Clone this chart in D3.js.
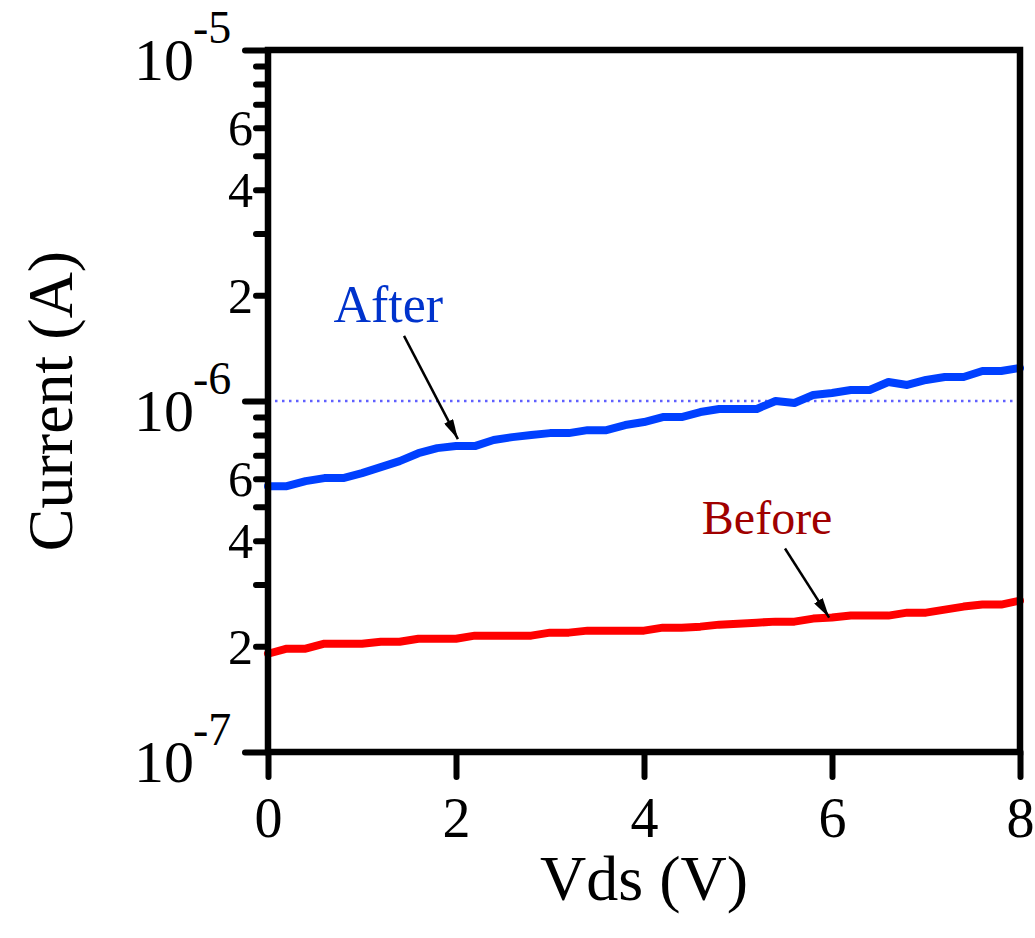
<!DOCTYPE html>
<html><head><meta charset="utf-8">
<script src="https://cdn.jsdelivr.net/npm/d3@7"></script>
<style>body{margin:0;background:#fff}svg{display:block}</style></head>
<body><svg id="c" width="1035" height="938"></svg>
<script>
// ---- data ----
const vds = [0,0.2,0.4,0.6,0.8,1.0,1.2,1.4,1.6,1.8,2.0,2.2,2.4,2.6,2.8,3.0,3.2,3.4,3.6,3.8,4.0,
             4.2,4.4,4.6,4.8,5.0,5.2,5.4,5.6,5.8,6.0,6.2,6.4,6.6,6.8,7.0,7.2,7.4,7.6,7.8,8.0];
const afterI = [0.572,0.572,0.591,0.603,0.603,0.623,0.648,0.674,0.710,0.734,0.744,0.744,0.774,0.789,0.800,0.810,0.810,0.826,0.826,0.854,0.871,
                0.900,0.900,0.930,0.949,0.949,0.949,1.000,0.987,1.040,1.054,1.075,1.075,1.133,1.111,1.148,1.171,1.171,1.218,1.218,1.242].map(v=>v*1e-6);
const beforeI = [1.905,1.969,1.969,2.035,2.035,2.035,2.062,2.062,2.103,2.103,2.103,2.145,2.145,2.145,2.145,2.188,2.188,2.217,2.217,2.217,2.217,
                 2.261,2.261,2.276,2.306,2.321,2.336,2.352,2.352,2.399,2.415,2.447,2.447,2.447,2.495,2.495,2.545,2.596,2.630,2.630,2.700].map(v=>v*1e-7);
const xTicks = [0,2,4,6,8];
const yMajor = [1e-7,1e-6,1e-5];
const yMajorExp = ["-7","-6","-5"];
const yMinorMult = [2,3,4,5,6,7,8,9];
const yMinorLabeled = [2,4,6];
const refLevel = 1e-6;
const labels = [
  {text:"After", x:1.28, y:1.682e-6, color:"#0033cc", size:52, from:[1.447,1.533e-6], to:[2.02,0.779e-6]},
  {text:"Before", x:5.31, y:0.417e-6, color:"#a00000", size:48, from:[5.50,0.380e-6], to:[5.97,0.2415e-6]}
];

// ---- layout ----
const L=268, R=1020, T=50, B=752;
const svg = d3.select("#c");
const font = "'Liberation Serif','Times New Roman',serif";
const x = d3.scaleLinear().domain([0,8]).range([L,R]);
const y = d3.scaleLog().domain([1e-7,1e-5]).range([B,T]);

// reference dotted line
svg.append("line").attr("x1",L).attr("x2",R).attr("y1",y(refLevel)).attr("y2",y(refLevel))
  .attr("stroke","#6060ff").attr("stroke-width",2.5).attr("stroke-dasharray","2.5,4.5");

// data lines
const line = d3.line().x((d,i)=>x(vds[i])).y(d=>y(d));
svg.append("path").datum(afterI).attr("d",line).attr("fill","none").attr("stroke","#0040ff")
  .attr("stroke-width",8).attr("stroke-linejoin","round").attr("stroke-linecap","round");
svg.append("path").datum(beforeI).attr("d",line).attr("fill","none").attr("stroke","#ff0000")
  .attr("stroke-width",8).attr("stroke-linejoin","round").attr("stroke-linecap","round");

// frame
svg.append("rect").attr("x",L).attr("y",T).attr("width",R-L).attr("height",B-T)
  .attr("fill","none").attr("stroke","#000").attr("stroke-width",6.5);

// y axis ticks
const minorVals = [];
[1e-7,1e-6].forEach(d=>yMinorMult.forEach(m=>minorVals.push(d*m)));
const yMinAxis = d3.axisLeft(y).tickValues(minorVals).tickSize(12).tickFormat("");
const gYm = svg.append("g").attr("transform",`translate(${L},0)`).call(yMinAxis);
const yMajAxis = d3.axisLeft(y).tickValues(yMajor).tickSize(23).tickFormat("");
const gYM = svg.append("g").attr("transform",`translate(${L},0)`).call(yMajAxis);
[gYm,gYM].forEach(g=>{g.select(".domain").remove();
  g.selectAll(".tick line").attr("stroke","#000").attr("stroke-width",6).attr("stroke-linecap","round");});

// y labels
yMajor.forEach((d,i)=>{
  svg.append("text").attr("x",194).attr("y",y(d)+30).attr("text-anchor","end")
    .attr("font-family",font).attr("font-size",60).text("10");
  svg.append("text").attr("x",193).attr("y",y(d)-7)
    .attr("font-family",font).attr("font-size",46).text(yMajorExp[i]);
});
[1e-7,1e-6].forEach(dec=>yMinorLabeled.forEach(m=>{
  svg.append("text").attr("x",253).attr("y",y(dec*m)).attr("dy","0.35em").attr("text-anchor","end")
    .attr("font-family",font).attr("font-size",50).text(m);
}));

// x axis
const xAxis = d3.axisBottom(x).tickValues(xTicks).tickSize(25).tickPadding(20).tickFormat(d3.format("d"));
const gX = svg.append("g").attr("transform",`translate(0,${B})`).call(xAxis);
gX.select(".domain").remove();
gX.selectAll(".tick line").attr("stroke","#000").attr("stroke-width",6).attr("stroke-linecap","round");
gX.selectAll(".tick text").attr("font-family",font).attr("font-size",56).attr("fill","#000");

// axis titles
svg.append("text").attr("x",(L+R)/2).attr("y",900).attr("text-anchor","middle")
  .attr("font-family",font).attr("font-size",64).text("Vds (V)");
svg.append("text").attr("transform",`translate(72,${(T+B)/2}) rotate(-90)`).attr("text-anchor","middle")
  .attr("font-family",font).attr("font-size",64).text("Current (A)");

// annotations
const defs = svg.append("defs");
defs.append("marker").attr("id","ah").attr("viewBox","0 0 20 10").attr("refX",20).attr("refY",5)
  .attr("markerWidth",20).attr("markerHeight",10).attr("markerUnits","userSpaceOnUse").attr("orient","auto")
  .append("path").attr("d","M0,0 L20,5 L0,10 Z").attr("fill","#000");
labels.forEach(a=>{
  svg.append("text").attr("x",x(a.x)).attr("y",y(a.y)).attr("text-anchor","middle")
    .attr("font-family",font).attr("font-size",a.size).attr("fill",a.color).text(a.text);
  svg.append("line").attr("x1",x(a.from[0])).attr("y1",y(a.from[1])).attr("x2",x(a.to[0])).attr("y2",y(a.to[1]))
    .attr("stroke","#000").attr("stroke-width",2.5).attr("marker-end","url(#ah)");
});
</script></body></html>
